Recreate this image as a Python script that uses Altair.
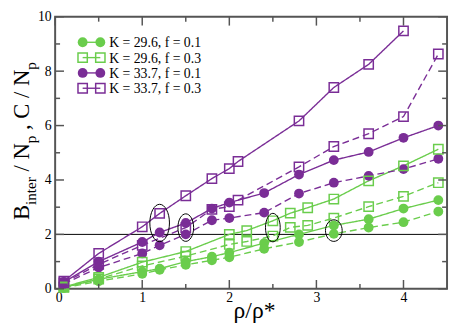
import altair as alt
import pandas as pd

# ---------------- data ----------------
x_circle = [0.1, 0.5, 1.0, 1.2, 1.5, 1.8, 2.0, 2.4, 2.8, 3.2, 3.6, 4.0, 4.4]
g_circ_solid = [0.05, 0.35, 0.63, 0.74, 1.0, 1.18, 1.33, 1.68, 2.0, 2.33, 2.56, 2.95, 3.26]
g_circ_dash = [0.03, 0.28, 0.55, 0.70, 0.88, 1.05, 1.16, 1.47, 1.72, 2.02, 2.25, 2.45, 2.84]
p_circ_solid = [0.25, 1.0, 1.72, 2.07, 2.42, 2.95, 3.17, 3.52, 4.2, 4.73, 5.03, 5.55, 6.0]
p_circ_dash = [0.18, 0.78, 1.3, 1.6, 2.0, 2.52, 2.6, 2.8, 3.5, 3.9, 4.15, 4.4, 4.78]

x_sq_green = [0.1, 0.5, 1.0, 1.5, 2.0, 2.2, 2.5, 2.7, 2.9, 3.2, 3.6, 4.0, 4.4]
g_sq_solid = [0.07, 0.42, 0.98, 1.37, 2.0, 2.14, 2.5, 2.78, 2.98, 3.3, 3.97, 4.52, 5.13]
g_sq_dash = [0.05, 0.36, 0.84, 1.2, 1.63, 1.74, 1.94, 2.26, 2.33, 2.6, 3.02, 3.4, 3.9]

x_sq_purple_solid = [0.1, 0.5, 1.0, 1.2, 1.5, 1.8, 2.0, 2.1, 2.8, 3.2, 3.6, 4.0]
p_sq_solid = [0.28, 1.3, 2.28, 2.77, 3.42, 4.05, 4.42, 4.68, 6.17, 7.4, 8.25, 9.48]
x_sq_purple_dash = [0.1, 0.5, 1.0, 1.5, 1.8, 2.0, 2.1, 2.8, 3.2, 3.6, 4.0, 4.4]
p_sq_dash = [0.22, 0.9, 1.6, 2.25, 2.92, 3.02, 3.26, 4.48, 5.23, 5.7, 6.33, 8.63]

legend_labels = ["K = 29.6, f = 0.1", "K = 29.6, f = 0.3",
                 "K = 33.7, f = 0.1", "K = 33.7, f = 0.3"]
groups = ["g_circ", "g_sq", "p_circ", "p_sq"]

ellipse_x = [1.2, 1.5, 2.5, 3.2]
ellipse_y = [2.42, 2.25, 2.25, 2.14]
hline_y = [2]

x_major = [0, 1, 2, 3, 4]
x_minor = [0.5, 1.5, 2.5, 3.5]
y_major = [0, 2, 4, 6, 8, 10]
y_minor = [1, 3, 5, 7, 9]

# ---------------- style ----------------
GREEN = "#6acd4c"
PURPLE = "#7a2d96"
FRAME = "#555555"
colors = [GREEN, GREEN, PURPLE, PURPLE]
LEFT, TOP = 56, 14          # page position of plot area
W, H = 399, 277
FONT = "Liberation Serif, Times New Roman, serif"
ellipse_w_px = [20, 16, 15, 17]
ellipse_h_px = [38, 28, 29, 22]

series = [
    ("g_circ", "solid", x_circle, g_circ_solid),
    ("g_circ", "dashed", x_circle, g_circ_dash),
    ("g_sq", "solid", x_sq_green, g_sq_solid),
    ("g_sq", "dashed", x_sq_green, g_sq_dash),
    ("p_circ", "solid", x_circle, p_circ_solid),
    ("p_circ", "dashed", x_circle, p_circ_dash),
    ("p_sq", "solid", x_sq_purple_solid, p_sq_solid),
    ("p_sq", "dashed", x_sq_purple_dash, p_sq_dash),
]
rows = []
for grp, dash, xs_, ys_ in series:
    for xv, yv in zip(xs_, ys_):
        rows.append({"x": xv, "y": yv, "grp": grp, "dash": dash, "key": grp + dash})
df = pd.DataFrame(rows)

xs = alt.Scale(domain=[0, 4.5], nice=False, zero=False)
ys = alt.Scale(domain=[0, 10], nice=False, zero=False)
xaxis = alt.Axis(values=x_major, tickSize=0, domain=False, grid=False, title=None,
                 labelFont=FONT, labelFontSize=14, labelColor="black", labelPadding=2,
                 format="d")
yaxis = alt.Axis(values=y_major, tickSize=0, domain=False, grid=False, title=None,
                 labelFont=FONT, labelFontSize=14, labelColor="black", labelPadding=4,
                 format="d")
X = lambda f="x": alt.X(f + ":Q", scale=xs, axis=xaxis)
Y = lambda f="y": alt.Y(f + ":Q", scale=ys, axis=yaxis)
col = alt.Color("grp:N", scale=alt.Scale(domain=groups, range=colors), legend=None)

lines = alt.Chart(df).mark_line(strokeWidth=1.4).encode(
    x=X(), y=Y(), color=col,
    strokeDash=alt.StrokeDash("dash:N", scale=alt.Scale(domain=["solid", "dashed"],
                                                        range=[[1, 0], [7, 4]]), legend=None),
    detail="key:N")

circ = alt.Chart(df[df.grp.str.endswith("circ")]).mark_point(
    shape="circle", filled=True, size=100, opacity=1).encode(x=X(), y=Y(), color=col)
sq = alt.Chart(df[df.grp.str.endswith("sq")]).mark_point(
    shape="square", filled=False, size=90, strokeWidth=1.5, opacity=1).encode(x=X(), y=Y(), color=col)

hline = alt.Chart(pd.DataFrame({"y": hline_y})).mark_rule(color="black", strokeWidth=1).encode(
    y=Y(), x=alt.value(0), x2=alt.value(W))

layers = [hline, lines, circ, sq]

# ellipses
for i in range(len(ellipse_x)):
    r = ellipse_w_px[i] / ellipse_h_px[i]
    path = f"M0,-1A{r:.3f},1 0 1,1 0,1A{r:.3f},1 0 1,1 0,-1Z"
    e = alt.Chart(pd.DataFrame({"x": [ellipse_x[i]], "y": [ellipse_y[i]]})).mark_point(
        shape=path, size=ellipse_h_px[i] ** 2, filled=False, color="black",
        strokeWidth=1, opacity=1).encode(x=X(), y=Y())
    layers.append(e)

# inward ticks
def xticks(vals, L):
    d = pd.DataFrame({"x": vals})
    b = alt.Chart(d).mark_rule(color=FRAME, strokeWidth=1.5).encode(
        x=X(), y=alt.value(H), y2=alt.value(H - L))
    t = alt.Chart(d).mark_rule(color=FRAME, strokeWidth=1.5).encode(
        x=X(), y=alt.value(0), y2=alt.value(L))
    return [b, t]

def yticks(vals, L):
    d = pd.DataFrame({"y": vals})
    l = alt.Chart(d).mark_rule(color=FRAME, strokeWidth=1.5).encode(
        y=Y(), x=alt.value(0), x2=alt.value(L))
    r = alt.Chart(d).mark_rule(color=FRAME, strokeWidth=1.5).encode(
        y=Y(), x=alt.value(W), x2=alt.value(W - L))
    return [l, r]

layers += xticks(x_major, 9) + xticks(x_minor, 5) + yticks(y_major, 9) + yticks(y_minor, 5)

# manual legend (page coordinates converted to plot coordinates)
dummy = pd.DataFrame({"a": [0]})
leg_y0, leg_dy = 40 - TOP, 15.6
sym_x = (84 - LEFT, 102 - LEFT)
txt_x = 111 - LEFT
for i, (lab, grp) in enumerate(zip(legend_labels, groups)):
    ly = leg_y0 + leg_dy * i
    c = colors[i]
    layers.append(alt.Chart(dummy).mark_rule(color=c, strokeWidth=1.4).encode(
        x=alt.value(sym_x[0]), x2=alt.value(sym_x[1]), y=alt.value(ly)))
    for px in sym_x:
        if grp.endswith("circ"):
            m = alt.Chart(dummy).mark_point(shape="circle", filled=True, size=100,
                                            color=c, opacity=1)
        else:
            m = alt.Chart(dummy).mark_point(shape="square", filled=False, size=90,
                                            strokeWidth=1.5, color=c, opacity=1)
        layers.append(m.encode(x=alt.value(px), y=alt.value(ly)))
    layers.append(alt.Chart(pd.DataFrame({"label": [lab]})).mark_text(
        font=FONT, fontSize=14, align="left", baseline="middle", color="black").encode(
        x=alt.value(txt_x), y=alt.value(ly + 1), text="label:N"))

# axis titles (manual, with subscripts)
def rot_text(txt, bx, y0, size):
    return alt.Chart(dummy).mark_text(text=txt, font=FONT, fontSize=size, angle=270,
                                      align="left", baseline="alphabetic",
                                      color="black").encode(
        x=alt.value(bx), y=alt.value(y0))

MAIN, SUB = 23, 15.5
bx_main, bx_sub = 29 - LEFT, 36.5 - LEFT
segs = [("B", bx_main, 221, MAIN), ("inter", bx_sub, 205.7, SUB),
        ("/ N", bx_main, 171.5, MAIN), ("p", bx_sub, 142.8, SUB),
        (", C / N", bx_main, 129.3, MAIN), ("p", bx_sub, 68.0, SUB)]
for t, bx, yy, s in segs:
    layers.append(rot_text(t, bx, yy - TOP, s))

layers.append(alt.Chart(dummy).mark_text(text="ρ/ρ*", font=FONT, fontSize=24, align="center",
                                         baseline="alphabetic", color="black").encode(
    x=alt.value(259 - LEFT), y=alt.value(321 - TOP)))

chart = alt.layer(*layers).properties(
    width=W, height=H,
    padding={"left": LEFT - 8, "top": TOP - 8, "right": 2, "bottom": 328 - 8 - (TOP - 8) - H},
    autosize=alt.AutoSizeParams(type="none"),
    background="white",
).configure_view(stroke=FRAME, strokeWidth=2)

chart.save("out.html", embed_options={"renderer": "svg", "actions": False})
